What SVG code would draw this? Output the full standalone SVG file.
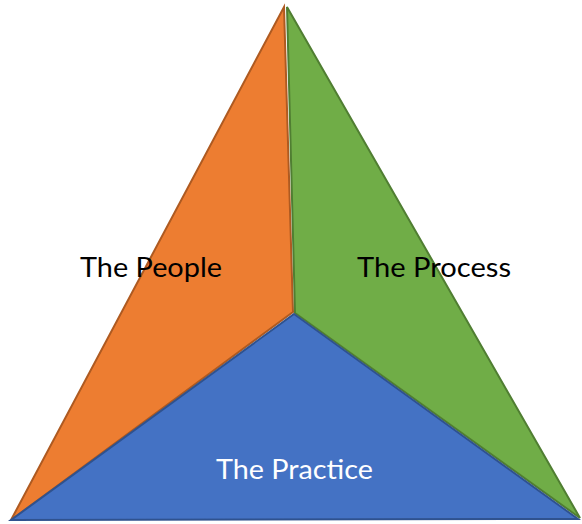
<svg xmlns="http://www.w3.org/2000/svg" width="582" height="524" viewBox="0 0 582 524">
<style>
.t{font-family:Lato,"Liberation Sans",sans-serif;font-size:27px}
.o{fill:#ED7D31;stroke:#AE5A21;stroke-width:2;stroke-linejoin:miter}
.g{fill:#70AD47;stroke:#507E32;stroke-width:2}
.b{fill:#4472C4;stroke:#2F528F;stroke-width:2}
</style>
<rect width="582" height="524" fill="#fff"/>
<g id="people">
<polygon class="o" points="284,7 293,312 11,520"/>
<text class="t" x="80" y="277" textLength="142" lengthAdjust="spacingAndGlyphs" fill="#000">The People</text>
</g>
<g id="process">
<polygon class="g" points="287,7 580,518 295,313"/>
<text class="t" x="357" y="277" textLength="154" lengthAdjust="spacingAndGlyphs" fill="#000">The Process</text>
</g>
<g id="practice">
<polygon class="b" points="294,314 578,519 11,520"/>
<text class="t" x="216" y="479" textLength="157" lengthAdjust="spacingAndGlyphs" fill="#fff">The Practice</text>
</g>
</svg>
